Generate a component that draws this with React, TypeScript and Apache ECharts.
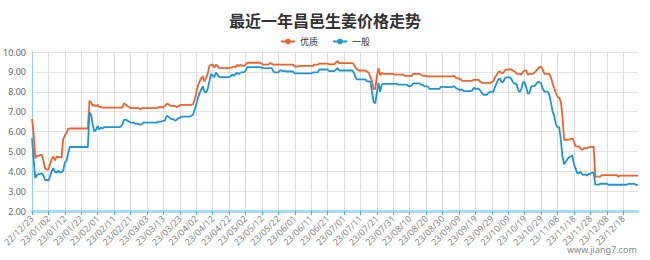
import React, { useEffect, useRef } from "react";
import * as echarts from "echarts";

const titleText = "最近一年昌邑生姜价格走势";
const seriesNames = ["优质", "一般"];
const startDate = "2022-12-23";
const dayCount = 370;
const yTicks = [2, 3, 4, 5, 6, 7, 8, 9, 10];

const premium = [
  6.64, 5.9, 4.66, 4.77, 4.77, 4.82, 4.82, 4.5, 4.15, 4.08,
  4.08, 4.35, 4.62, 4.74, 4.55, 4.74, 4.71, 4.71, 4.68, 5.6,
  5.8, 5.92, 6.13, 6.15, 6.15, 6.15, 6.15, 6.15, 6.15, 6.15,
  6.15, 6.15, 6.15, 6.15, 6.15, 7.56, 7.46, 7.29, 7.34, 7.27,
  7.34, 7.23, 7.25, 7.2, 7.2, 7.2, 7.2, 7.2, 7.2, 7.2,
  7.2, 7.2, 7.2, 7.2, 7.2, 7.2, 7.42, 7.35, 7.27, 7.25,
  7.18, 7.18, 7.18, 7.18, 7.18, 7.18, 7.12, 7.18, 7.18, 7.18,
  7.18, 7.18, 7.18, 7.18, 7.18, 7.18, 7.18, 7.22, 7.22, 7.22,
  7.22, 7.29, 7.4, 7.38, 7.3, 7.29, 7.29, 7.29, 7.23, 7.26,
  7.33, 7.34, 7.34, 7.34, 7.34, 7.34, 7.34, 7.34, 7.36, 7.59,
  7.93, 8.3, 8.5, 8.69, 8.77, 8.52, 8.7, 8.9, 9.3, 9.36,
  9.36, 9.22, 9.36, 9.3, 9.19, 9.19, 9.19, 9.19, 9.19, 9.19,
  9.19, 9.22, 9.24, 9.27, 9.24, 9.36, 9.3, 9.36, 9.3, 9.3,
  9.36, 9.46, 9.46, 9.46, 9.46, 9.46, 9.46, 9.46, 9.46, 9.46,
  9.4, 9.36, 9.36, 9.36, 9.36, 9.46, 9.4, 9.36, 9.36, 9.36,
  9.36, 9.36, 9.36, 9.36, 9.36, 9.36, 9.36, 9.36, 9.36, 9.36,
  9.27, 9.27, 9.27, 9.3, 9.3, 9.3, 9.3, 9.3, 9.3, 9.3,
  9.3, 9.3, 9.36, 9.36, 9.36, 9.42, 9.42, 9.42, 9.42, 9.42,
  9.42, 9.38, 9.38, 9.38, 9.38, 9.47, 9.54, 9.44, 9.44, 9.44,
  9.44, 9.44, 9.44, 9.44, 9.44, 9.44, 9.38, 9.2, 9.12, 9.07,
  9.07, 9.07, 9.07, 9.07, 9.0, 8.97, 8.75, 8.55, 8.13, 8.13,
  8.77, 9.19, 8.84, 8.94, 8.9, 8.9, 8.9, 8.9, 8.9, 8.9,
  8.9, 8.86, 8.86, 8.86, 8.86, 8.86, 8.86, 8.8, 8.8, 8.8,
  8.8, 8.77, 8.9, 8.9, 8.9, 8.9, 8.9, 8.86, 8.8, 8.8,
  8.8, 8.77, 8.77, 8.77, 8.77, 8.77, 8.77, 8.77, 8.77, 8.77,
  8.77, 8.77, 8.77, 8.77, 8.77, 8.77, 8.77, 8.8, 8.72, 8.68,
  8.66, 8.62, 8.55, 8.55, 8.55, 8.55, 8.55, 8.55, 8.55, 8.6,
  8.6, 8.6, 8.6, 8.5, 8.45, 8.45, 8.45, 8.45, 8.45, 8.45,
  8.48, 8.55, 8.75, 8.85, 9.0, 9.02, 8.92, 8.95, 9.08, 9.12,
  9.12, 9.12, 9.12, 9.05, 9.02, 8.9, 8.9, 8.9, 8.86, 9.0,
  9.07, 9.05, 8.86, 8.9, 8.9, 8.9, 8.97, 9.05, 9.15, 9.24,
  9.26, 9.1, 8.9, 8.9, 8.9, 8.9, 8.72, 8.43, 8.17, 7.95,
  7.75, 7.7, 7.5, 6.8, 5.58, 5.58, 5.58, 5.58, 5.63, 5.66,
  5.5, 5.25, 5.25, 5.25, 5.15, 5.07, 5.16, 5.16, 5.16, 5.21,
  5.21, 5.21, 5.24, 3.73, 3.73, 3.73, 3.73, 3.81, 3.81, 3.81,
  3.81, 3.81, 3.81, 3.81, 3.81, 3.81, 3.81, 3.73, 3.78, 3.78,
  3.78, 3.78, 3.78, 3.78, 3.78, 3.78, 3.78, 3.78, 3.78, 3.78,
];

const ordinary = [
  5.66, 4.57, 3.65, 3.82, 3.86, 3.86, 3.9, 3.77, 3.56, 3.56,
  3.53, 3.75, 4.0, 4.15, 3.98, 3.93, 4.03, 3.93, 3.95, 4.03,
  4.45, 4.5, 4.9, 5.22, 5.22, 5.22, 5.22, 5.22, 5.22, 5.22,
  5.22, 5.22, 5.22, 5.22, 5.22, 6.95, 6.84, 6.34, 6.0, 6.08,
  6.28, 6.1, 6.2, 6.15, 6.22, 6.22, 6.22, 6.22, 6.22, 6.22,
  6.22, 6.22, 6.22, 6.22, 6.25, 6.35, 6.59, 6.6, 6.55, 6.5,
  6.45, 6.45, 6.45, 6.38, 6.38, 6.38, 6.34, 6.38, 6.45, 6.45,
  6.45, 6.45, 6.45, 6.45, 6.45, 6.45, 6.45, 6.5, 6.5, 6.5,
  6.55, 6.55, 6.79, 6.75, 6.67, 6.62, 6.62, 6.55, 6.58, 6.67,
  6.67, 6.75, 6.75, 6.75, 6.75, 6.75, 6.75, 6.79, 6.84, 7.09,
  7.34, 7.68, 7.93, 8.1, 8.27, 8.01, 7.96, 8.13, 8.52, 8.9,
  8.8, 8.74, 8.97, 8.85, 8.74, 8.74, 8.74, 8.74, 8.74, 8.74,
  8.74, 8.78, 8.87, 8.8, 8.9, 8.95, 8.88, 8.97, 8.97, 8.97,
  9.05, 9.24, 9.24, 9.24, 9.24, 9.24, 9.24, 9.24, 9.24, 9.24,
  9.2, 9.19, 9.19, 9.19, 9.19, 9.19, 9.19, 9.02, 8.97, 8.97,
  8.97, 9.07, 9.07, 9.04, 9.04, 9.02, 9.02, 9.02, 9.02, 9.02,
  8.92, 8.92, 8.92, 8.92, 8.92, 8.92, 8.92, 8.92, 8.92, 8.92,
  8.92, 8.97, 8.97, 8.97, 8.97, 9.12, 9.12, 9.12, 9.12, 9.12,
  9.12, 9.04, 9.04, 9.04, 9.04, 9.1, 9.19, 9.07, 9.07, 9.07,
  9.07, 9.07, 9.07, 9.07, 9.07, 9.07, 8.97, 8.72, 8.62, 8.62,
  8.62, 8.62, 8.62, 8.62, 8.52, 8.52, 8.52, 8.0, 7.5, 7.42,
  7.95, 8.45, 8.0, 8.35, 8.4, 8.4, 8.4, 8.4, 8.4, 8.4,
  8.4, 8.4, 8.4, 8.36, 8.36, 8.36, 8.36, 8.36, 8.36, 8.3,
  8.27, 8.3, 8.42, 8.42, 8.42, 8.42, 8.42, 8.35, 8.35, 8.27,
  8.27, 8.27, 8.14, 8.14, 8.14, 8.14, 8.14, 8.14, 8.14, 8.25,
  8.25, 8.25, 8.23, 8.23, 8.23, 8.23, 8.25, 8.28, 8.2, 8.15,
  8.1, 8.1, 8.1, 8.03, 8.03, 8.03, 8.03, 8.03, 8.06, 8.2,
  8.15, 8.15, 8.15, 8.05, 7.93, 7.85, 7.85, 7.85, 7.95, 8.0,
  8.0, 8.0, 8.27, 8.45, 8.64, 8.66, 8.47, 8.5, 8.69, 8.72,
  8.72, 8.72, 8.62, 8.47, 8.4, 8.4, 8.1, 7.98, 8.15, 8.48,
  8.48, 8.2, 7.9, 7.95, 8.28, 8.28, 8.28, 8.38, 8.5, 8.48,
  8.43, 8.15, 8.01, 8.01, 8.01, 7.85, 7.45, 7.0, 6.8, 6.36,
  6.22, 6.22, 5.6, 4.74, 4.35, 4.48, 4.6, 4.7, 4.74, 4.8,
  4.35, 4.15, 3.9, 3.9, 3.98, 3.85, 3.81, 3.85, 3.78, 3.87,
  3.87, 3.93, 3.93, 3.33, 3.33, 3.33, 3.37, 3.37, 3.37, 3.37,
  3.37, 3.32, 3.32, 3.32, 3.32, 3.32, 3.32, 3.32, 3.32, 3.32,
  3.32, 3.32, 3.32, 3.36, 3.36, 3.36, 3.36, 3.36, 3.31, 3.31,
];

function buildDates(): string[] {
  const out: string[] = [];
  const start = new Date(startDate + "T00:00:00Z").getTime();
  for (let i = 0; i < dayCount; i++) {
    const d = new Date(start + i * 86400000);
    const yy = String(d.getUTCFullYear()).slice(2);
    const mm = String(d.getUTCMonth() + 1).padStart(2, "0");
    const dd = String(d.getUTCDate()).padStart(2, "0");
    out.push(`${yy}/${mm}/${dd}`);
  }
  return out;
}

const categories = buildDates();

export default function App() {
  const ref = useRef<HTMLDivElement>(null);
  useEffect(() => {
    document.body.style.margin = "0";
    if (!ref.current) return;
    const chart = echarts.init(ref.current, null, { renderer: "svg" });
    const axisFont = "'Noto Sans', 'DejaVu Sans', sans-serif";
    chart.setOption({
      animation: false,
      backgroundColor: "#ffffff",
      title: {
        text: titleText,
        left: "center",
        top: 7,
        textStyle: {
          fontSize: 16,
          fontWeight: "bold",
          color: "#333",
          fontFamily: "'Noto Sans CJK SC', sans-serif",
        },
      },
      legend: {
        data: seriesNames,
        top: 32,
        left: "center",
        itemWidth: 14,
        itemHeight: 7,
        itemGap: 14,
        textStyle: {
          fontSize: 9,
          color: "#333",
          fontFamily: "'Noto Sans CJK SC', sans-serif",
        },
      },
      grid: { left: 31, right: 12, top: 52, bottom: 49, containLabel: false },
      xAxis: {
        type: "category",
        data: categories,
        boundaryGap: false,
        axisLine: { show: true, lineStyle: { color: "#a6dcf5", width: 3 } },
        axisTick: {
          show: true,
          interval: 9,
          length: 4,
          lineStyle: { color: "#3fb2e6", width: 1 },
        },
        axisLabel: {
          interval: 9,
          rotate: 45,
          fontSize: 9,
          color: "#888",
          fontFamily: axisFont,
          margin: 6,
        },
        splitLine: {
          show: true,
          interval: 9,
          lineStyle: { color: "#dcdcdc", width: 1 },
        },
      },
      yAxis: {
        type: "value",
        min: yTicks[0],
        max: yTicks[yTicks.length - 1],
        interval: 1,
        axisLine: { show: true, lineStyle: { color: "#8fd0ef", width: 1 } },
        axisTick: { show: false },
        axisLabel: {
          fontSize: 9,
          color: "#666",
          fontFamily: axisFont,
          margin: 6,
          formatter: (v: number) => v.toFixed(2),
        },
        splitLine: { show: true, lineStyle: { color: "#e2e2e2", width: 1 } },
      },
      series: [
        {
          name: seriesNames[0],
          type: "line",
          data: premium,
          symbol: "circle",
          symbolSize: 6,
          showSymbol: false,
          lineStyle: { color: "#f0622b", width: 1.8 },
          itemStyle: { color: "#f0622b" },
        },
        {
          name: seriesNames[1],
          type: "line",
          data: ordinary,
          symbol: "circle",
          symbolSize: 6,
          showSymbol: false,
          lineStyle: { color: "#1e95d4", width: 1.8 },
          itemStyle: { color: "#1e95d4" },
        },
      ],
      graphic: [
        {
          type: "text",
          left: 567,
          top: 245,
          style: {
            text: "www.jiang7.com",
            fontSize: 9,
            fill: "#888",
            fontFamily: axisFont,
          },
        },
      ],
    });
    return () => chart.dispose();
  }, []);
  return <div ref={ref} style={{ width: 650, height: 260 }} />;
}
